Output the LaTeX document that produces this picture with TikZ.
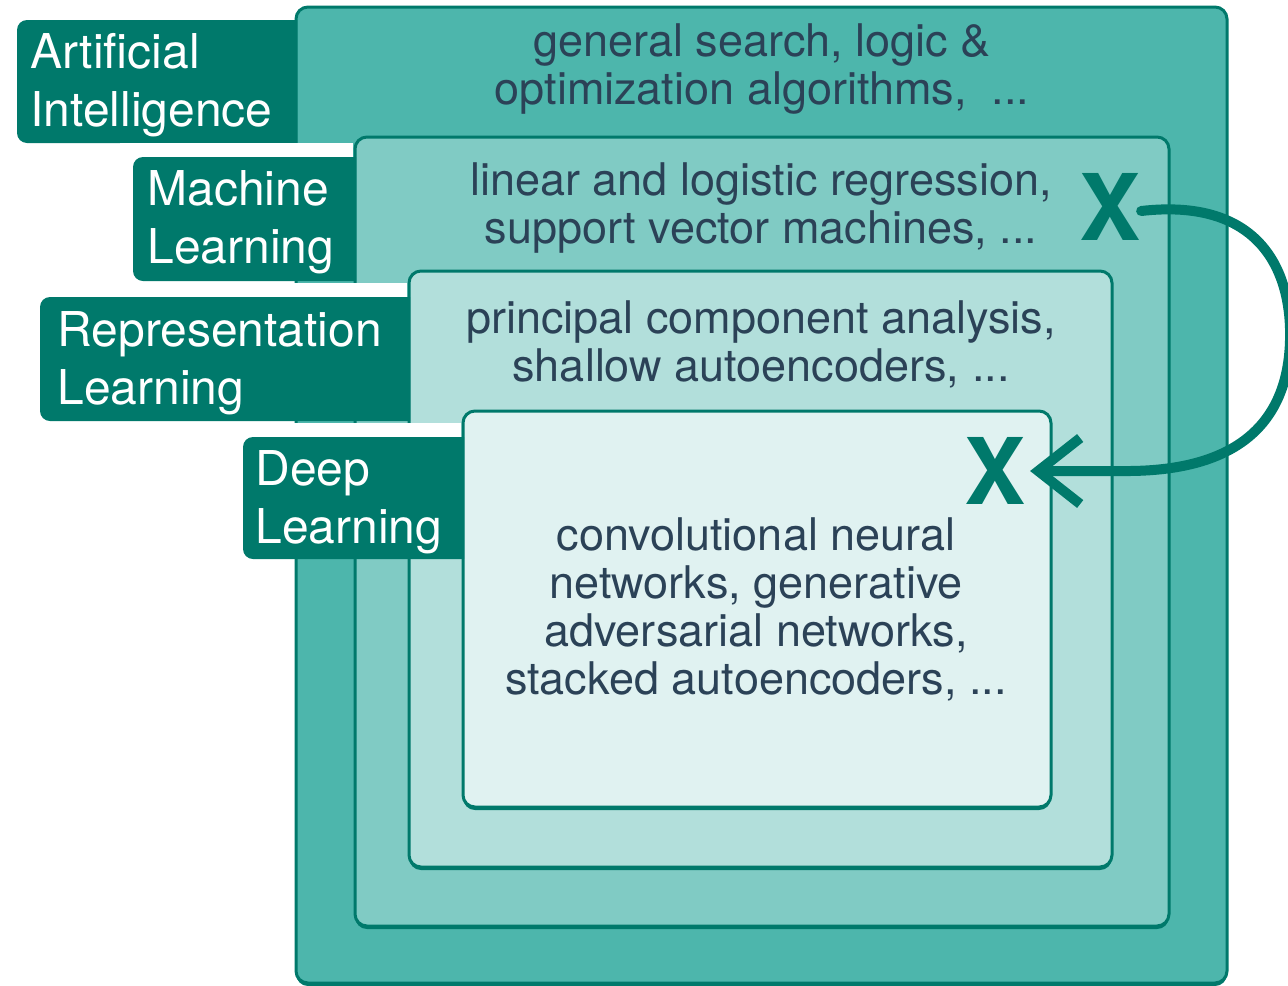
\documentclass[tikz,border=0pt]{standalone}
\usepackage{fontspec}
\setmainfont{TeX Gyre Heros}
\usetikzlibrary{arrows.meta}
\definecolor{tealdark}{HTML}{00796B}
\definecolor{tealA}{HTML}{4DB6AC}
\definecolor{tealB}{HTML}{80CBC4}
\definecolor{tealC}{HTML}{B2DFDB}
\definecolor{tealD}{HTML}{E0F2F1}
\definecolor{bodyink}{HTML}{2B4257}
\begin{document}
\begin{tikzpicture}[x=0.5pt,y=-0.5pt,
  layer/.style={draw=tealdark, line width=1.5pt, rounded corners=6pt},
  drop/.style={fill=tealdark, rounded corners=6pt},
  tagtext/.style={anchor=base west, inner sep=0pt, text=white,
    font=\fontsize{24}{29}\selectfont, align=left},
  bodytext/.style={anchor=base, inner sep=0pt, text=bodyink,
    font=\fontsize{22.5}{24}\selectfont, align=center},
  cross/.style={inner sep=0pt, text=tealdark,
    font=\fontsize{46}{46}\selectfont\bfseries},
  loop/.style={draw=tealdark, line width=5pt, line cap=round,
    -{Straight Barb[length=21pt,width=33pt]}}
]
\useasboundingbox (0,0) rectangle (1288,985);

% nested layers, outermost first (each with a slight drop shadow)
\fill[drop] (296,10) rectangle (1227,986);
\filldraw[layer, fill=tealA] (296,7) rectangle (1227,983);
\fill[drop] (355,140) rectangle (1169,929);
\filldraw[layer, fill=tealB] (355,137) rectangle (1169,926);
\fill[drop] (409,274) rectangle (1112,870);
\filldraw[layer, fill=tealC] (409,271) rectangle (1112,867);
\fill[drop] (463,414) rectangle (1051,810);
\filldraw[layer, fill=tealD] (463,411) rectangle (1051,807);

% tabs on the left of each layer
\fill[tealdark] (297,20) [rounded corners=5pt] -- (17,20) -- (17,143) [sharp corners] -- (297,143) -- cycle;
\fill[white] (120,143) rectangle (353,157);
\fill[tealdark] (356,157) [rounded corners=5pt] -- (133,157) -- (133,281) [sharp corners] -- (356,281) -- cycle;
\fill[white] (30,283) rectangle (407,297);
\fill[tealdark] (410,297) [rounded corners=5pt] -- (40,297) -- (40,421) [sharp corners] -- (410,421) -- cycle;
\fill[white] (230,423) rectangle (461,437);
\fill[tealdark] (464,437) [rounded corners=5pt] -- (243,437) -- (243,559) [sharp corners] -- (464,559) -- cycle;

% tab captions (anchored at the baseline of their last line)
\node[tagtext] (tagAI) at (30,126) {Artificial\\Intelligence};
\node[tagtext] (tagML) at (147,263) {Machine\\Learning};
\node[tagtext] (tagRL) at (57,404) {Representation\\Learning};
\node[tagtext] (tagDL) at (255,543) {Deep\\Learning};

% examples inside each layer
\node[bodytext] (txtAI) at (762,104) {general search, logic \&\\optimization algorithms,\ \ ...};
\node[bodytext] (txtML) at (761,243) {linear and logistic regression,\\support vector machines, ...};
\node[bodytext] (txtRL) at (761,381) {principal component analysis,\\shallow autoencoders, ...};
\node[bodytext] (txtDL) at (756,694) {convolutional neural\\networks, generative\\adversarial networks,\\stacked autoencoders, ...};

% crossed-out marks and the loop between them
\node[cross] (x1) at (1110,207) {X};
\node[cross] (x2) at (995,471) {X};
\draw[loop] ([yshift=-2pt]x1.east)
  .. controls (1255,198) and (1292,265) .. (1290,340)
  .. controls (1288,425) and (1235,470) .. (1130,471)
  -- ([xshift=2pt]x2.east);
\end{tikzpicture}
\end{document}
